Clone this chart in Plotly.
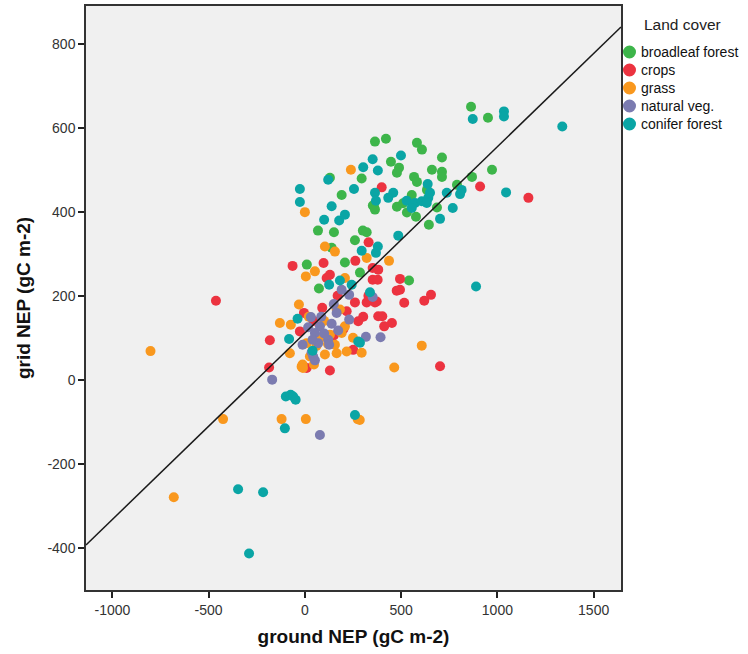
import plotly.graph_objects as go

# ---- data (ground NEP, grid NEP) ----
broadleaf_x = [863, 951, 421, 364, 582, 608, 712, 447, 489, 478, 660, 712, 712, 972, 868, 567, 582, 634, 790,
               478, 530, 577, 686, 644, 359, 541, 130, 295, 191, 353, 68, 151, 301, 321, 260, 139, 10, 208, 286,
               73, 364, 555, 510]
broadleaf_y = [650, 624, 574, 567, 564, 548, 529, 519, 505, 493, 500, 495, 483, 500, 483, 483, 471, 452, 464,
               412, 398, 388, 410, 369, 412, 236, 481, 479, 440, 415, 355, 351, 355, 351, 332, 314, 274, 279, 255,
               217, 405, 440, 420]

crops_x = [-462, -64, 97, 262, 331, 130, 113, 352, 352, 321, 260, 364, 90, -5, 217, 303, 277, 381, -182, -186,
           130, -26, 251, 9, 381, 378, 494, 477, 494, 516, 620, 655, 402, 452, 412, 373, 399, 910, 1161, 702,
           330, 150, 200, 170, 45]
crops_y = [188, 271, 278, 283, 327, 250, 242, 266, 238, 184, 184, 184, 171, 159, 163, 150, 139, 151, 94, 29,
           22, 115, 71, 28, 262, 238, 240, 212, 214, 183, 188, 202, 151, 135, 127, 186, 458, 460, 433, 32,
           200, 105, 120, 200, 140]

grass_x = [239, 0, 104, 156, 5, 52, 321, 208, -31, -130, -73, -802, -425, -121, 5, 274, 285, -681, -17, -78,
           165, 295, 182, -12, 47, 104, 130, 217, 156, 9, 26, 191, 208, 165, 437, 607, 464, -10, 80, 60,
           120, 250, 20, 100]
grass_y = [500, 399, 317, 305, 246, 258, 290, 242, 179, 135, 131, 68, -94, -94, -94, -94, -96, -280, 31, 63,
           63, 64, 167, 36, 36, 60, 107, 67, 83, 87, 55, 111, 127, 167, 283, 81, 29, 28, 100, 80,
           85, 100, 150, 140]

natural_x = [31, 165, 230, 139, 78, 17, 52, 173, -12, 69, 121, 126, 43, 52, 317, 393, -170, 191, 230, 352,
             78, 100, 85, 40, 35, 150]
natural_y = [149, 159, 143, 133, 127, 125, 111, 117, 83, 87, 95, 83, 55, 46, 102, 101, 0, 214, 202, 197,
             -132, 110, 150, 95, 65, 180]

conifer_x = [-26, -26, 121, 139, 255, 303, 352, 364, 369, 379, 100, 178, 208, 295, 369, 379, 182, 126, 243,
             338, -38, 1034, 1034, 872, 1337, 499, 638, 459, 433, 529, 572, 607, 641, 633, 650, 737, 814, 806,
             1045, 768, 555, 702, 485, 889, -82, 40, 277, 286, -99, -74, -61, -48, -104, 260, -347, -217, -290]
conifer_y = [454, 423, 476, 413, 454, 506, 525, 445, 426, 498, 381, 379, 393, 307, 302, 317, 236, 226, 226,
             208, 145, 639, 627, 621, 603, 534, 466, 445, 433, 426, 421, 425, 433, 421, 445, 445, 452, 442,
             446, 409, 409, 383, 343, 222, 97, 69, 91, 88, -40, -36, -40, -48, -116, -84, -261, -268, -414]

# fit line
fit_intercept = 111
fit_slope = 0.444
x_range = [-1137, 1642]
y_range = [-501, 890]

x_tickvals = [-1000, -500, 0, 500, 1000, 1500]
x_ticktext = ["-1000", "-500", "0", "500", "1000", "1500"]
y_tickvals = [-400, -200, 0, 200, 400, 600, 800]
y_ticktext = ["-400", "-200", "0", "200", "400", "600", "800"]

series = [
    ("broadleaf forest", broadleaf_x, broadleaf_y, "#3db54a"),
    ("crops", crops_x, crops_y, "#ec3340"),
    ("grass", grass_x, grass_y, "#f9981e"),
    ("natural veg.", natural_x, natural_y, "#7b7bb0"),
    ("conifer forest", conifer_x, conifer_y, "#0aa5a5"),
]

fig = go.Figure()
for name, xs, ys, col in series:
    fig.add_trace(go.Scatter(
        x=xs, y=ys, mode="markers", name=name, showlegend=False,
        marker=dict(color=col, size=10, line=dict(width=0)),
    ))

fig.add_trace(go.Scatter(
    x=x_range, y=[fit_intercept + fit_slope * v for v in x_range],
    mode="lines", line=dict(color="#1a1a1a", width=1.5), showlegend=False, hoverinfo="skip",
))

# ---- legend drawn at the right side (title + circle + label per series) ----
W, H = 748, 654
L, R, T, B = 86, 127, 6, 64
pw, ph = W - L - R, H - T - B
def px_x(px):
    return (px - L) / pw
def px_y(py):
    return (H - B - py) / ph

annotations = [dict(text="Land cover", x=px_x(642), y=px_y(25), xref="paper", yref="paper",
                    xanchor="left", yanchor="middle", showarrow=False,
                    font=dict(size=15.5, color="#222222"))]
shapes = []
item_y = [52, 70, 88, 106, 124]
for (name, _, _, col), yy in zip(series, item_y):
    shapes.append(dict(type="circle", xref="paper", yref="paper", xsizemode="pixel", ysizemode="pixel",
                       xanchor=px_x(629.5), yanchor=px_y(yy), x0=-6.5, x1=6.5, y0=-6.5, y1=6.5,
                       fillcolor=col, line=dict(width=0)))
    annotations.append(dict(text=name, x=px_x(639), y=px_y(yy), xref="paper", yref="paper",
                            xanchor="left", yanchor="middle", showarrow=False,
                            font=dict(size=14, color="#111111")))

font_family = "Liberation Sans, Arial, sans-serif"
fig.update_layout(
    width=W, height=H,
    margin=dict(l=L, r=R, t=T, b=B, autoexpand=False),
    paper_bgcolor="white",
    plot_bgcolor="#f0f0f0",
    font=dict(family=font_family, size=14, color="#333333"),
    showlegend=False,
    annotations=annotations,
    shapes=shapes,
    xaxis=dict(
        range=x_range, tickvals=x_tickvals, ticktext=x_ticktext,
        ticks="outside", ticklen=6, tickcolor="#222222", tickwidth=1.5,
        showgrid=False, zeroline=False,
        showline=True, linecolor="#333333", linewidth=1.5, mirror=True,
        title=dict(text="<b>ground NEP (gC m-2)</b>", font=dict(size=19, color="#111111"), standoff=13),
        tickfont=dict(size=14, color="#333333"),
    ),
    yaxis=dict(
        range=y_range, tickvals=y_tickvals, ticktext=y_ticktext,
        ticks="outside", ticklen=6, tickcolor="#222222", tickwidth=1.5,
        showgrid=False, zeroline=False,
        showline=True, linecolor="#333333", linewidth=1.5, mirror=True,
        title=dict(text="<b>grid NEP (gC m-2)</b>", font=dict(size=19, color="#111111"), standoff=12),
        tickfont=dict(size=14, color="#333333"),
    ),
)

fig.write_html("out.html", config={"displayModeBar": False},
               post_script="document.body.style.margin='0px';")
